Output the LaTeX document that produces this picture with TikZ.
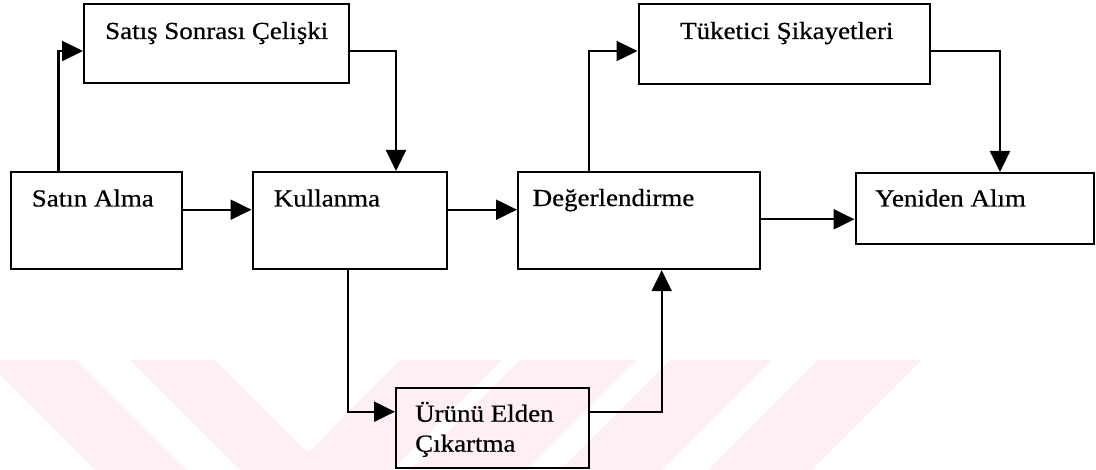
\documentclass[tikz,border=0pt]{standalone}
\usepackage{fontspec}
\setmainfont{Liberation Serif}[FakeStretch=1.1,FakeBold=0.6]
\usetikzlibrary{arrows.meta}
\definecolor{wm}{RGB}{254,239,242}
\tikzset{
  box/.style={draw=black, line width=2.2pt, anchor=north west, inner sep=0pt},
  lbl/.style={anchor=base west, inner sep=0pt, font=\fontsize{24.5}{30}\selectfont},
  arr/.style={line width=2.2pt, -{Triangle[length=21pt,width=20pt]}},
  wmark/.style={fill=wm, draw=none}
}
\begin{document}
\begin{tikzpicture}[x=1pt,y=-1pt]
\useasboundingbox (0,0) rectangle (1096,470);
% watermark
\begin{scope}
\clip (0,0) rectangle (1096,470);
\fill[wmark] (-15,360) -- (77,360) -- (187,470) -- (95,470) -- cycle;
\fill[wmark] (130,360) -- (215,360) -- (308,453) -- (400,360) -- (502,360) -- (392,470) -- (240,470) -- cycle;
\fill[wmark] (520,360) -- (637,360) -- (527,470) -- (410,470) -- cycle;
\fill[wmark] (670,360) -- (772,360) -- (662,470) -- (560,470) -- cycle;
\fill[wmark] (818,360) -- (922,360) -- (812,470) -- (708,470) -- cycle;
\end{scope}
% boxes
\node[box, minimum width=171.5pt, minimum height=97pt] (satin) at (9.5,171) {};
\node[box, minimum width=265pt, minimum height=79pt] (satis) at (83,3) {};
\node[box, minimum width=194pt, minimum height=97pt] (kull) at (251.5,171) {};
\node[box, minimum width=242pt, minimum height=97pt] (deger) at (517,171) {};
\node[box, minimum width=291.5pt, minimum height=80pt] (tuket) at (637.5,3) {};
\node[box, minimum width=238.5pt, minimum height=71pt] (yeni) at (854.5,172) {};
\node[box, minimum width=193pt, minimum height=80pt] (urun) at (395,387) {};
% texts
\node[lbl] (tsatis) at (105,39) {Satış Sonrası Çelişki};
\node[lbl] (tsatin) at (31.6,206.5) {Satın Alma};
\node[lbl] (tkull) at (273.6,206.5) {Kullanma};
\node[lbl] (tdeger) at (532.5,206) {Değerlendirme};
\node[lbl] (ttuket) at (680,39) {Tüketici Şikayetleri};
\node[lbl] (tyeni) at (875,206.5) {Yeniden Alım};
\node[lbl] (turun1) at (415,421.7) {Ürünü Elden};
\node[lbl] (turun2) at (415,451.7) {Çıkartma};
% connectors
\draw[arr] ([xshift=49pt]satin.north west) |- ([yshift=-48pt]satis.north west);
\draw[arr] ([yshift=-48pt]satis.north east) -| ([xshift=144.5pt]kull.north west);
\draw[arr] ([yshift=-38.7pt]satin.north east) -- ([yshift=-38.7pt]kull.north west);
\draw[arr] ([yshift=-38.7pt]kull.north east) -- ([yshift=-38.7pt]deger.north west);
\draw[arr] ([xshift=71.6pt]deger.north west) |- ([yshift=-48pt]tuket.north west);
\draw[arr] ([yshift=-48pt]tuket.north east) -| ([xshift=145.5pt]yeni.north west);
\draw[arr] ([yshift=-48.3pt]deger.north east) -- ([yshift=-47.3pt]yeni.north west);
\draw[arr] ([xshift=96.5pt]kull.south west) |- ([yshift=-24.7pt]urun.north west);
\draw[arr] ([yshift=-24.7pt]urun.north east) -| ([xshift=144.7pt]deger.south west);
\end{tikzpicture}
\end{document}
